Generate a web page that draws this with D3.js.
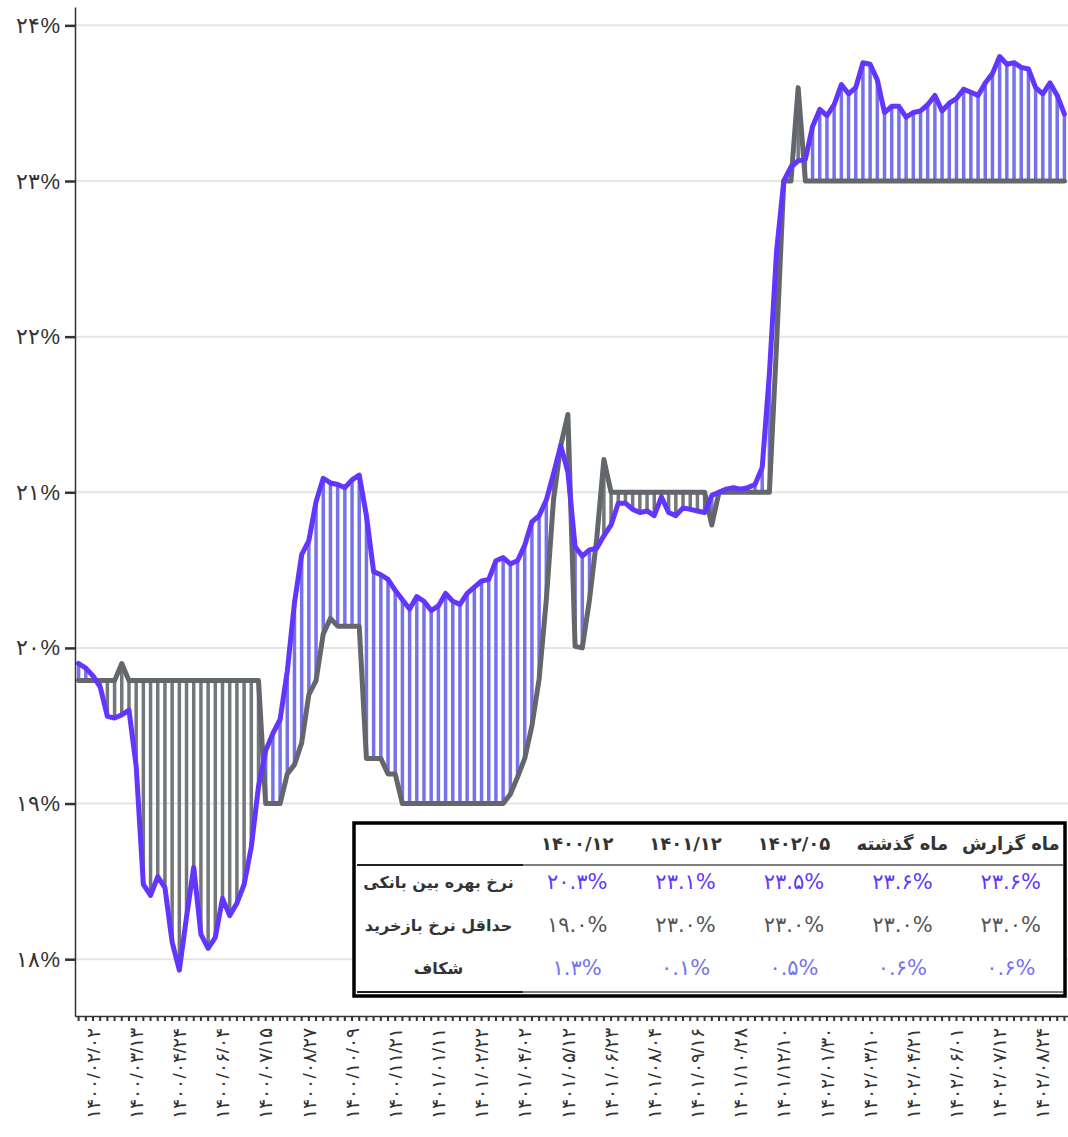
<!DOCTYPE html>
<html>
<head>
<meta charset="utf-8">
<script src="https://cdn.jsdelivr.net/npm/d3@7"></script>
<style>
  body { margin: 0; background: #fff; }
  svg { display: block; font-family: "DejaVu Sans", sans-serif; }
</style>
</head>
<body>
<svg id="chart" width="1068" height="1137"></svg>
<script>
// weekly interbank rate, percent
const interbank = [
  19.90, 19.87, 19.82, 19.75, 19.56, 19.55, 19.57, 19.60, 19.24, 18.48,
  18.41, 18.53, 18.46, 18.11, 17.93, 18.27, 18.59, 18.16, 18.07, 18.14,
  18.39, 18.28, 18.36, 18.48, 18.72, 19.11, 19.34, 19.45, 19.54, 19.85,
  20.29, 20.60, 20.69, 20.94, 21.09, 21.06, 21.05, 21.03, 21.08, 21.11,
  20.85, 20.49, 20.47, 20.44, 20.37, 20.31, 20.25, 20.33, 20.30, 20.24,
  20.27, 20.35, 20.30, 20.28, 20.35, 20.39, 20.43, 20.44, 20.56, 20.58,
  20.54, 20.56, 20.66, 20.81, 20.85, 20.95, 21.12, 21.30, 21.13, 20.65,
  20.59, 20.63, 20.64, 20.72, 20.79, 20.93, 20.93, 20.89, 20.87, 20.88,
  20.85, 20.97, 20.87, 20.85, 20.90, 20.89, 20.88, 20.87, 20.98, 21.00,
  21.02, 21.03, 21.02, 21.03, 21.05, 21.16, 21.76, 22.55, 23.00, 23.09,
  23.13, 23.14, 23.35, 23.46, 23.42, 23.49, 23.62, 23.56, 23.60, 23.76,
  23.75, 23.65, 23.44, 23.48, 23.48, 23.41, 23.44, 23.45, 23.49, 23.55,
  23.45, 23.50, 23.53, 23.59, 23.57, 23.55, 23.63, 23.69, 23.80, 23.75,
  23.76, 23.73, 23.72, 23.60, 23.56, 23.63, 23.55, 23.43
];

// weekly minimum repo rate, percent
const repo = [
  19.79, 19.79, 19.79, 19.79, 19.79, 19.79, 19.90, 19.79, 19.79, 19.79,
  19.79, 19.79, 19.79, 19.79, 19.79, 19.79, 19.79, 19.79, 19.79, 19.79,
  19.79, 19.79, 19.79, 19.79, 19.79, 19.79, 19.00, 19.00, 19.00, 19.19,
  19.25, 19.39, 19.70, 19.79, 20.09, 20.19, 20.14, 20.14, 20.14, 20.14,
  19.29, 19.29, 19.29, 19.19, 19.19, 19.00, 19.00, 19.00, 19.00, 19.00,
  19.00, 19.00, 19.00, 19.00, 19.00, 19.00, 19.00, 19.00, 19.00, 19.00,
  19.06, 19.17, 19.29, 19.50, 19.80, 20.31, 20.95, 21.30, 21.50, 20.01,
  20.00, 20.31, 20.70, 21.21, 21.00, 21.00, 21.00, 21.00, 21.00, 21.00,
  21.00, 21.00, 21.00, 21.00, 21.00, 21.00, 21.00, 21.00, 20.79, 21.00,
  21.00, 21.00, 21.00, 21.00, 21.00, 21.00, 21.00, 21.95, 23.00, 23.00,
  23.60, 23.00, 23.00, 23.00, 23.00, 23.00, 23.00, 23.00, 23.00, 23.00,
  23.00, 23.00, 23.00, 23.00, 23.00, 23.00, 23.00, 23.00, 23.00, 23.00,
  23.00, 23.00, 23.00, 23.00, 23.00, 23.00, 23.00, 23.00, 23.00, 23.00,
  23.00, 23.00, 23.00, 23.00, 23.00, 23.00, 23.00, 23.00
];

// date labels, one every six weeks starting at week 2
const tickLabels = [
  "۱۴۰۰/۰۲/۰۲", "۱۴۰۰/۰۳/۱۳", "۱۴۰۰/۰۴/۲۴", "۱۴۰۰/۰۶/۰۴", "۱۴۰۰/۰۷/۱۵",
  "۱۴۰۰/۰۸/۲۷", "۱۴۰۰/۱۰/۰۹", "۱۴۰۰/۱۱/۲۱", "۱۴۰۱/۰۱/۱۱", "۱۴۰۱/۰۲/۲۲",
  "۱۴۰۱/۰۴/۰۲", "۱۴۰۱/۰۵/۱۲", "۱۴۰۱/۰۶/۲۳", "۱۴۰۱/۰۸/۰۴", "۱۴۰۱/۰۹/۱۶",
  "۱۴۰۱/۱۰/۲۸", "۱۴۰۱/۱۲/۱۰", "۱۴۰۲/۰۱/۳۰", "۱۴۰۲/۰۳/۱۰", "۱۴۰۲/۰۴/۲۱",
  "۱۴۰۲/۰۶/۰۱", "۱۴۰۲/۰۷/۱۲", "۱۴۰۲/۰۸/۲۴"
];
const labelFirst = 2;
const labelStep = 6;

const yTicks = [18, 19, 20, 21, 22, 23, 24];

// summary table (columns right to left)
const tableCols = ["ماه گزارش", "ماه گذشته", "۱۴۰۲/۰۵", "۱۴۰۱/۱۲", "۱۴۰۰/۱۲"];
const tableRowNames = ["نرخ بهره بین بانکی", "حداقل نرخ بازخرید", "شکاف"];
const interbankRow = [23.6, 23.6, 23.5, 23.1, 20.3];
const repoRow = [23.0, 23.0, 23.0, 23.0, 19.0];
const gapRow = [0.6, 0.6, 0.5, 0.1, 1.3];

const colors = {
  interbank: "#6236ff",
  repo: "#63676b",
  hatchUp: "#7673ea",
  hatchDown: "#73777b"
};

const faDigits = "۰۱۲۳۴۵۶۷۸۹";
const toFa = s => String(s).replace(/[0-9]/g, d => faDigits[+d]);

const svg = d3.select("#chart");
const width = +svg.attr("width");

const n = interbank.length;

const x = d3.scaleBand()
  .domain(d3.range(n))
  .range([75, width])
  .padding(0);
const cx = i => x(i) + x.bandwidth() / 2;

const y = d3.scaleLinear()
  .domain([17.635, 24.118])
  .range([1016, 7]);

const g = {
  grid: svg.append("g"),
  hatch: svg.append("g"),
  lines: svg.append("g"),
  axes: svg.append("g"),
  table: svg.append("g")
};

// horizontal gridlines
g.grid.selectAll("line")
  .data(yTicks)
  .join("line")
  .attr("x1", 75)
  .attr("x2", width)
  .attr("y1", d => y(d))
  .attr("y2", d => y(d))
  .attr("stroke", "#e5e5e5")
  .attr("stroke-width", 2);

// vertical hatch between the two rates
g.hatch.selectAll("line")
  .data(d3.range(n).filter(i => interbank[i] !== repo[i]))
  .join("line")
  .attr("x1", cx)
  .attr("x2", cx)
  .attr("y1", i => y(repo[i]))
  .attr("y2", i => y(interbank[i]))
  .attr("stroke", i => interbank[i] > repo[i] ? colors.hatchUp : colors.hatchDown)
  .attr("stroke-width", 3.5);

const line = d3.line()
  .x((d, i) => cx(i))
  .y(d => y(d));

g.lines.append("path")
  .datum(repo)
  .attr("d", line)
  .attr("fill", "none")
  .attr("stroke", colors.repo)
  .attr("stroke-width", 5)
  .attr("stroke-linejoin", "round")
  .attr("stroke-linecap", "round");

g.lines.append("path")
  .datum(interbank)
  .attr("d", line)
  .attr("fill", "none")
  .attr("stroke", colors.interbank)
  .attr("stroke-width", 5)
  .attr("stroke-linejoin", "round")
  .attr("stroke-linecap", "round");

// y axis
const yAxis = g.axes.append("g")
  .attr("transform", "translate(75,0)")
  .call(d3.axisLeft(y)
    .tickValues(yTicks)
    .tickSize(10)
    .tickSizeOuter(0)
    .tickPadding(5)
    .tickFormat(d => toFa(d) + "%"));
yAxis.select(".domain").attr("stroke", "#333").attr("stroke-width", 1.5);
yAxis.selectAll(".tick line").attr("stroke", "#333").attr("stroke-width", 2.5);
yAxis.selectAll(".tick text")
  .attr("fill", "#333")
  .style("font-size", "22px");

// x axis, one tick per week
const labelAt = new Map(tickLabels.map((t, k) => [labelFirst + k * labelStep, t]));
const xAxis = g.axes.append("g")
  .attr("transform", "translate(0,1016)")
  .call(d3.axisBottom(x)
    .tickSize(5)
    .tickSizeOuter(0)
    .tickFormat(i => labelAt.get(i) || ""));
xAxis.select(".domain").attr("stroke", "#333").attr("stroke-width", 1.5);
xAxis.selectAll(".tick line").attr("stroke", "#333").attr("stroke-width", 2);
xAxis.selectAll(".tick text")
  .attr("transform", "rotate(-90)")
  .attr("text-anchor", "end")
  .attr("x", -12)
  .attr("y", 0)
  .attr("dy", "0.35em")
  .attr("fill", "#333")
  .style("font-size", "19px");

// summary table
const tbl = {left: 354, right: 1065, top: 823, bottom: 996, labelRight: 523};
const col = d3.scaleBand()
  .domain(tableCols)
  .range([tbl.right, tbl.labelRight]);
const rowY = [843, 882, 925, 968];

g.table.append("rect")
  .attr("x", tbl.left)
  .attr("y", tbl.top)
  .attr("width", tbl.right - tbl.left)
  .attr("height", tbl.bottom - tbl.top)
  .attr("fill", "#fff")
  .attr("stroke", "#000")
  .attr("stroke-width", 3.5);

[865, 992].forEach(ly => {
  g.table.append("line")
    .attr("x1", tbl.left + 3).attr("x2", tbl.labelRight)
    .attr("y1", ly).attr("y2", ly)
    .attr("stroke", "#222").attr("stroke-width", 2);
  g.table.append("line")
    .attr("x1", tbl.labelRight).attr("x2", tbl.right - 2)
    .attr("y1", ly).attr("y2", ly)
    .attr("stroke", "#555").attr("stroke-width", 1.5);
});

g.table.selectAll("text.head")
  .data(tableCols)
  .join("text")
  .attr("class", "head")
  .attr("x", d => col(d) + col.bandwidth() / 2)
  .attr("y", rowY[0])
  .attr("text-anchor", "middle")
  .attr("dominant-baseline", "central")
  .attr("fill", "#333")
  .style("font-size", "18px")
  .style("font-weight", "bold")
  .text(d => d);

g.table.selectAll("text.rowname")
  .data(tableRowNames)
  .join("text")
  .attr("class", "rowname")
  .attr("x", (tbl.left + tbl.labelRight) / 2)
  .attr("y", (d, i) => rowY[i + 1])
  .attr("text-anchor", "middle")
  .attr("dominant-baseline", "central")
  .attr("fill", "#333")
  .style("font-size", "16px")
  .style("font-weight", "bold")
  .text(d => d);

const tableRows = [
  {values: interbankRow, color: colors.interbank},
  {values: repoRow, color: "#555"},
  {values: gapRow, color: colors.hatchUp}
];

tableRows.forEach((row, r) => {
  g.table.selectAll("text.val" + r)
    .data(row.values)
    .join("text")
    .attr("class", "val" + r)
    .attr("x", (d, i) => col(tableCols[i]) + col.bandwidth() / 2)
    .attr("y", rowY[r + 1])
    .attr("text-anchor", "middle")
    .attr("dominant-baseline", "central")
    .attr("fill", row.color)
    .style("font-size", "21px")
    .text(d => toFa(d.toFixed(1)) + "%");
});
</script>
</body>
</html>
